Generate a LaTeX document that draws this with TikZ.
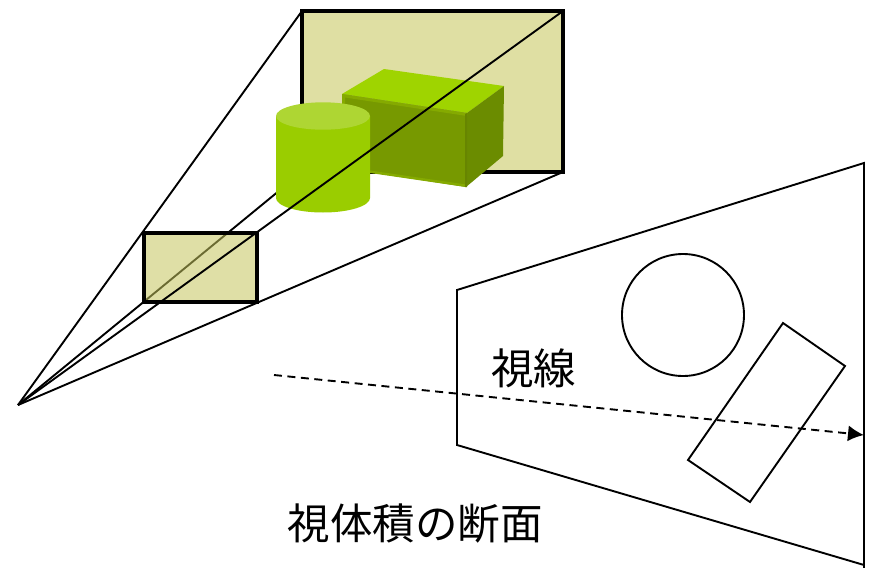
\documentclass[tikz,border=0pt]{standalone}
\usepackage{fontspec}
\newfontfamily\cjk{Noto Sans CJK JP}
\usetikzlibrary{arrows.meta}
\definecolor{panel}{HTML}{DFDFA3}
\definecolor{nearfill}{HTML}{C4C45C}
\definecolor{boxtop}{HTML}{9FD400}
\definecolor{boxfront}{HTML}{779900}
\definecolor{boxright}{HTML}{6B8C00}
\definecolor{boxedge}{HTML}{85AA00}
\definecolor{boxedgeb}{HTML}{678500}
\definecolor{cylbody}{HTML}{9ACD00}
\definecolor{cyltop}{HTML}{AED633}
\tikzset{
  ray/.style={line width=1.9pt,black},
  panelbox/.style={fill=panel,draw=black,line width=3.1pt,line join=miter},
  thin outline/.style={line width=1.9pt,black,line join=miter},
  cap label/.style={font=\cjk\fontsize{42.5}{42.5}\selectfont,inner sep=0pt,text=black}
}
\begin{document}
\begin{tikzpicture}[x=1pt,y=-1pt]
\useasboundingbox (0,0) rectangle (871,568);
\coordinate (apex) at (18,405);
\coordinate (ftl) at (302,11);
\coordinate (ftr) at (563,11);
\coordinate (fbr) at (563,172);
\coordinate (fbl) at (302,172);
\coordinate (ntl) at (144,233);
\coordinate (nbr) at (257,302);
% frustum rays
\draw[ray] (apex) -- (ftl);
\draw[ray] (apex) -- (fbl);
\draw[ray] (apex) -- (fbr);
% far plane
\draw[panelbox] (ftl) rectangle (fbr);
% box
\fill[boxtop] (342,94) -- (384,69) -- (504,86) -- (467,113) -- cycle;
\fill[boxfront] (342,94) -- (467,113) -- (466,187) -- (342,168) -- cycle;
\fill[boxright] (467,113) -- (504,86) -- (503,156) -- (466,187) -- cycle;
\fill[boxedge] (342,94) -- (467,113) -- (467,116) -- (345,97.5) -- (345,168) -- (342,168) -- cycle;
\fill[boxedge] (370,170.5) -- (466,184.5) -- (466,187) -- (370,173) -- cycle;
\fill[boxedgeb] (467,113) -- (467,187) -- (465,187) -- (465,114) -- cycle;
% cylinder
\fill[cylbody] (276,116) -- (276,198) arc[start angle=180,end angle=0,x radius=47,y radius=14.5] -- (370,116) -- cycle;
\fill[cyltop] (323,116) ellipse[x radius=47,y radius=13.7];
% near plane
\fill[nearfill,fill opacity=.55] (ntl) rectangle (nbr);
\draw[black,line width=3.1pt] (ntl) rectangle (nbr);
% centre ray on top
\draw[ray] (apex) -- (ftr);
% section
\draw[thin outline] (864,568) -- (864,163) -- (457,290) -- (457,445) -- (864,565);
\node[draw=black,line width=1.9pt,circle,minimum size=122pt,inner sep=0pt] (sphere) at (683,315) {};
\draw[thin outline] (783,323) -- (845,366) -- (750,502) -- (688,460) -- cycle;
\coordinate (rayS) at (274,375);
\coordinate (rayE) at (864,435);
\draw[line width=1.9pt,dash pattern=on 8pt off 5.5pt,-{Latex[length=16pt,width=16pt]}] (rayS) -- (rayE);
\node[cap label] (sight) at (533.5,368) {視線};
\node[cap label] (title) at (415,524) {視体積の断面};
\end{tikzpicture}
\end{document}
